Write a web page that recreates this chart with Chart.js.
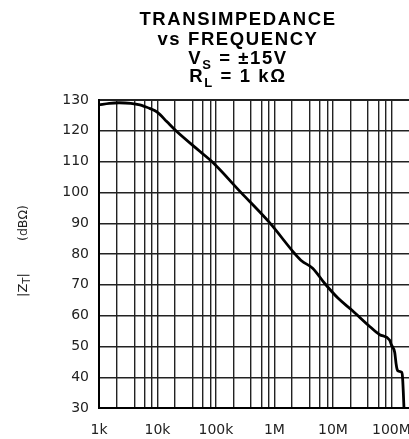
<!DOCTYPE html>
<html><head><meta charset="utf-8">
<script src="https://cdn.jsdelivr.net/npm/chart.js@4/dist/chart.umd.min.js"></script>
<style>html,body{margin:0;padding:0;background:#fff}#wrap{width:409px;height:439px}</style>
</head><body><div id="wrap"><canvas id="c" width="409" height="439"></canvas></div>
<script>
// ---- data ----
const freqHz = [1e3, 1.5e3, 2.2e3, 3.5e3, 5e3, 6.2e3, 7.5e3, 1e4, 1.44e4, 2.07e4, 5.4e4, 8.5e4, 2.67e5, 8.4e5, 2.25e6, 2.9e6, 4.5e6, 7.2e6, 1.23e7, 2.1e7, 4.3e7, 6.3e7, 9.3e7, 1.0e8, 1.14e8, 1.2e8, 1.25e8, 1.3e8, 1.5e8, 1.55e8, 1.6e8, 1.64e8];
const transimpedanceDb = [128.4, 128.9, 129.1, 128.9, 128.4, 127.8, 127.2, 126.0, 123.0, 120.0, 113.2, 110, 100, 90, 80, 77.8, 75.4, 70.5, 65.6, 61.8, 56.4, 53.8, 52.1, 50.5, 48.0, 44.5, 42.6, 42.0, 41.6, 40.0, 35.0, 30.0];
const xDecades = [1e3, 1e4, 1e5, 1e6, 1e7, 1e8];
const xTickLabels = ['1k', '10k', '100k', '1M', '10M', '100M'];
const xGridMultipliers = [1, 2, 4, 6, 8];
const yTicks = [30, 40, 50, 60, 70, 80, 90, 100, 110, 120, 130];
const titleLines = [
  [['TRANSIMPEDANCE', 0]],
  [['vs FREQUENCY', 0]],
  [['V', 0], ['S', 1], [' = \u00b115V', 0]],
  [['R', 0], ['L', 1], [' = 1 k\u03a9', 0]]
];
const yTitleParts = [['|Z', 0], ['T', 1], ['|', 0]];
const yTitleUnit = '(dB\u03a9)';

// ---- derived grid ticks ----
const xGridTicks = [];
xDecades.forEach(d => xGridMultipliers.forEach(m => { const v = d * m; if (v <= 1e8) xGridTicks.push(v); }));

function labelFor(v) {
  for (let i = 0; i < xDecades.length; i++) if (Math.abs(v / xDecades[i] - 1) < 1e-6) return xTickLabels[i];
  return '';
}

const textPlugin = {
  id: 'texts',
  afterDraw(chart) {
    const ctx = chart.ctx;
    ctx.save();
    ctx.fillStyle = '#000';
    ctx.textBaseline = 'alphabetic';
    const baselines = [25, 45, 63.5, 82];
    const cx = 238;
    titleLines.forEach((line, li) => {
      let w = 0;
      line.forEach(([t, sub]) => {
        ctx.font = sub ? 'bold 13px "Liberation Sans"' : 'bold 18.5px "Liberation Sans"';
        ctx.letterSpacing = '1.6px';
        w += ctx.measureText(t).width;
      });
      let x = cx - w / 2;
      line.forEach(([t, sub]) => {
        ctx.font = sub ? 'bold 13px "Liberation Sans"' : 'bold 18.5px "Liberation Sans"';
        ctx.letterSpacing = '1.6px';
        ctx.textAlign = 'left';
        ctx.fillText(t, x, baselines[li] + (sub ? 5 : 0));
        x += ctx.measureText(t).width;
      });
    });
    ctx.letterSpacing = '0px';
    // y axis title (rotated)
    ctx.translate(24, 297);
    ctx.rotate(-Math.PI / 2);
    ctx.fillStyle = '#222';
    ctx.textBaseline = 'middle';
    ctx.textAlign = 'left';
    let x = 0;
    yTitleParts.forEach(([t, sub]) => {
      ctx.font = sub ? '10px "DejaVu Sans"' : '13px "DejaVu Sans"';
      ctx.fillText(t, x, sub ? 3 : 0);
      x += ctx.measureText(t).width;
    });
    ctx.font = '12.5px "DejaVu Sans"';
    ctx.fillText(yTitleUnit, 56, 0);
    ctx.restore();
  }
};

new Chart(document.getElementById('c'), {
  type: 'line',
  data: {
    datasets: [{
      data: freqHz.map((f, i) => ({ x: f, y: transimpedanceDb[i] })),
      borderColor: '#000',
      borderWidth: 2.8,
      pointRadius: 0,
      fill: false,
      cubicInterpolationMode: 'monotone'
    }]
  },
  options: {
    responsive: false,
    animation: false,
    devicePixelRatio: 1,
    layout: { padding: { top: 100, left: 0, right: 0, bottom: 0 } },
    plugins: { legend: { display: false }, tooltip: { enabled: false } },
    scales: {
      x: {
        type: 'logarithmic',
        min: 1e3,
        max: 2e8,
        afterBuildTicks: ax => { ax.ticks = xGridTicks.map(v => ({ value: v })); },
        afterFit: s => { s.paddingLeft = 0; s.paddingRight = 0; s.height = 31; },
        ticks: {
          autoSkip: false, maxRotation: 0, minRotation: 0,
          callback: v => labelFor(v),
          font: { family: 'DejaVu Sans', size: 14 },
          color: '#222',
          padding: 14
        },
        grid: { color: '#222', lineWidth: 1.4, drawTicks: false },
        border: { display: true, color: '#000', width: 2 }
      },
      y: {
        type: 'linear',
        min: 30,
        max: 130,
        afterBuildTicks: ax => { ax.ticks = yTicks.map(v => ({ value: v })); },
        afterFit: s => { s.width = 99; },
        ticks: {
          font: { family: 'DejaVu Sans', size: 14 },
          color: '#222',
          padding: 10
        },
        grid: { color: '#222', lineWidth: c => (c.tick && c.tick.value === 130 ? 2 : 1.4), drawTicks: false },
        border: { display: true, color: '#000', width: 2 }
      }
    }
  },
  plugins: [textPlugin]
});
</script></body></html>
